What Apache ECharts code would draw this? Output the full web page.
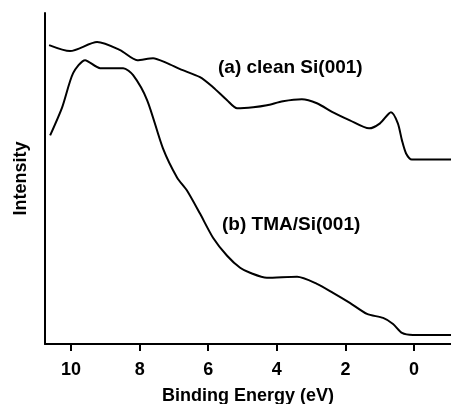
<!DOCTYPE html>
<html>
<head>
<meta charset="utf-8">
<title>Valence band spectra</title>
<script src="https://cdn.jsdelivr.net/npm/echarts@6/dist/echarts.min.js"></script>
<style>
  html, body { margin: 0; padding: 0; background: #fff; }
</style>
</head>
<body>
<div id="main" style="width: 451px; height: 404px;"></div>
<script>
// binding energy (eV) and intensity (arb. units)
var energyA = [10.64, 10.03, 9.24, 8.57, 8.07, 7.61, 7.20, 6.82, 6.24, 5.86, 5.45, 5.16, 4.69, 4.29, 3.82, 3.27, 2.83, 2.36, 1.87, 1.31, 0.99, 0.67, 0.47, 0.35, 0.23, 0.06, -1.08];
var cleanSi = [298, 292, 301, 293, 283, 285, 280, 274, 266, 256, 243, 235, 236, 238, 242, 244, 240, 231, 223, 215, 220, 231, 220, 203, 190, 184, 184];

var energyB = [10.61, 10.26, 9.94, 9.59, 9.15, 8.48, 8.19, 7.78, 7.32, 6.91, 6.62, 6.24, 5.86, 5.45, 5.07, 4.78, 4.29, 3.41, 2.83, 2.36, 1.87, 1.37, 0.90, 0.61, 0.35, 0.03, -1.08];
var tmaSi = [208, 236, 270, 283, 275, 275, 268, 243, 195, 166, 153, 130, 106, 88, 76, 71, 66, 67, 60, 51, 41, 30, 26, 20, 11, 9, 9];

var tickValues = [0, 2, 4, 6, 8, 10];

function pairs(xs, ys) {
    return xs.map(function (x, i) { return [x, ys[i]]; });
}

var chart = echarts.init(document.getElementById('main'));
var boldFont = { fontFamily: 'Liberation Sans', fontWeight: 'bold', color: '#000' };

chart.setOption({
    animation: false,
    grid: { left: 45, right: 0, top: 13, bottom: 60, outerBoundsMode: 'none', containLabel: false },
    xAxis: {
        type: 'value',
        inverse: true,
        min: -1.08,
        max: 10.76,
        name: 'Binding Energy (eV)',
        nameLocation: 'middle',
        nameGap: 43,
        nameTextStyle: Object.assign({ fontSize: 18 }, boldFont),
        splitLine: { show: false },
        axisLine: { onZero: false, lineStyle: { color: '#000', width: 2 } },
        axisTick: { customValues: tickValues, length: 7, lineStyle: { color: '#000', width: 2 } },
        axisLabel: Object.assign({ customValues: tickValues, fontSize: 18, margin: 17 }, boldFont)
    },
    yAxis: {
        type: 'value',
        min: 0,
        max: 330,
        name: 'Intensity',
        nameLocation: 'middle',
        nameGap: 15,
        nameTextStyle: Object.assign({ fontSize: 18 }, boldFont),
        splitLine: { show: false },
        axisLine: { show: true, onZero: false, lineStyle: { color: '#000', width: 2 } },
        axisTick: { show: false },
        axisLabel: { show: false }
    },
    series: [
        {
            name: '(a) clean Si(001)',
            type: 'line',
            data: pairs(energyA, cleanSi),
            smooth: 0.25,
            showSymbol: false,
            lineStyle: { color: '#000', width: 2 }
        },
        {
            name: '(b) TMA/Si(001)',
            type: 'line',
            data: pairs(energyB, tmaSi),
            smooth: 0.25,
            showSymbol: false,
            lineStyle: { color: '#000', width: 2 }
        }
    ],
    graphic: [
        { type: 'text', left: 218, top: 58, style: { text: '(a) clean Si(001)', font: 'bold 19px "Liberation Sans"', fill: '#000' } },
        { type: 'text', left: 222, top: 215, style: { text: '(b) TMA/Si(001)', font: 'bold 19px "Liberation Sans"', fill: '#000' } }
    ]
});
</script>
</body>
</html>
